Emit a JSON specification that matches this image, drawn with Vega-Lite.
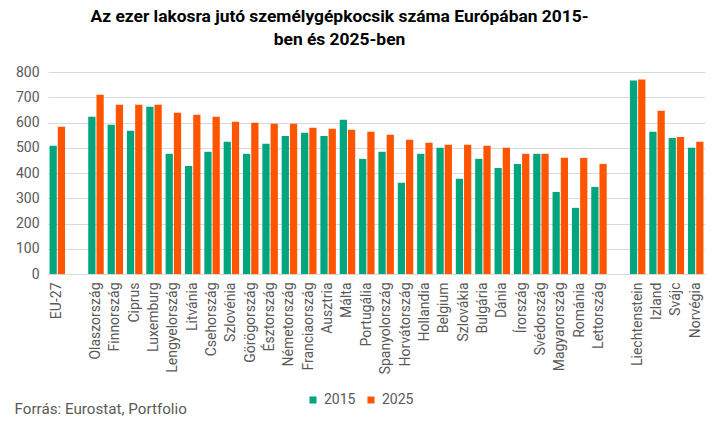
{
  "$schema": "https://vega.github.io/schema/vega-lite/v6.json",
  "autosize": {"type": "none"},
  "width": 657,
  "height": 202,
  "padding": {"left": 48, "top": 72, "right": 14, "bottom": 148},
  "background": "white",
  "title": {
    "text": ["Az ezer lakosra jutó személygépkocsik száma Európában 2015-", "ben és 2025-ben"],
    "font": "Roboto",
    "fontSize": 17.4,
    "fontWeight": "bold",
    "color": "#000000",
    "anchor": "middle",
    "dx": -37,
    "offset": 17,
    "lineHeight": 23
  },
  "data": {
    "values": [
      {"orszag": "EU-27", "ev": "2015", "ertek": 508},
      {"orszag": "EU-27", "ev": "2025", "ertek": 583},
      {"orszag": "Olaszország", "ev": "2015", "ertek": 623},
      {"orszag": "Olaszország", "ev": "2025", "ertek": 710},
      {"orszag": "Finnország", "ev": "2015", "ertek": 591},
      {"orszag": "Finnország", "ev": "2025", "ertek": 670},
      {"orszag": "Ciprus", "ev": "2015", "ertek": 567},
      {"orszag": "Ciprus", "ev": "2025", "ertek": 670},
      {"orszag": "Luxemburg", "ev": "2015", "ertek": 662},
      {"orszag": "Luxemburg", "ev": "2025", "ertek": 670},
      {"orszag": "Lengyelország", "ev": "2015", "ertek": 476},
      {"orszag": "Lengyelország", "ev": "2025", "ertek": 639},
      {"orszag": "Litvánia", "ev": "2015", "ertek": 428},
      {"orszag": "Litvánia", "ev": "2025", "ertek": 631},
      {"orszag": "Csehország", "ev": "2015", "ertek": 484},
      {"orszag": "Csehország", "ev": "2025", "ertek": 623},
      {"orszag": "Szlovénia", "ev": "2015", "ertek": 524},
      {"orszag": "Szlovénia", "ev": "2025", "ertek": 603},
      {"orszag": "Görögország", "ev": "2015", "ertek": 476},
      {"orszag": "Görögország", "ev": "2025", "ertek": 599},
      {"orszag": "Észtország", "ev": "2015", "ertek": 516},
      {"orszag": "Észtország", "ev": "2025", "ertek": 595},
      {"orszag": "Németország", "ev": "2015", "ertek": 547},
      {"orszag": "Németország", "ev": "2025", "ertek": 595},
      {"orszag": "Franciaország", "ev": "2015", "ertek": 559},
      {"orszag": "Franciaország", "ev": "2025", "ertek": 579},
      {"orszag": "Ausztria", "ev": "2015", "ertek": 547},
      {"orszag": "Ausztria", "ev": "2025", "ertek": 575},
      {"orszag": "Málta", "ev": "2015", "ertek": 611},
      {"orszag": "Málta", "ev": "2025", "ertek": 571},
      {"orszag": "Portugália", "ev": "2015", "ertek": 456},
      {"orszag": "Portugália", "ev": "2025", "ertek": 563},
      {"orszag": "Spanyolország", "ev": "2015", "ertek": 484},
      {"orszag": "Spanyolország", "ev": "2025", "ertek": 551},
      {"orszag": "Horvátország", "ev": "2015", "ertek": 361},
      {"orszag": "Horvátország", "ev": "2025", "ertek": 532},
      {"orszag": "Hollandia", "ev": "2015", "ertek": 476},
      {"orszag": "Hollandia", "ev": "2025", "ertek": 520},
      {"orszag": "Belgium", "ev": "2015", "ertek": 500},
      {"orszag": "Belgium", "ev": "2025", "ertek": 512},
      {"orszag": "Szlovákia", "ev": "2015", "ertek": 377},
      {"orszag": "Szlovákia", "ev": "2025", "ertek": 512},
      {"orszag": "Bulgária", "ev": "2015", "ertek": 456},
      {"orszag": "Bulgária", "ev": "2025", "ertek": 508},
      {"orszag": "Dánia", "ev": "2015", "ertek": 420},
      {"orszag": "Dánia", "ev": "2025", "ertek": 500},
      {"orszag": "Írország", "ev": "2015", "ertek": 436},
      {"orszag": "Írország", "ev": "2025", "ertek": 476},
      {"orszag": "Svédország", "ev": "2015", "ertek": 476},
      {"orszag": "Svédország", "ev": "2025", "ertek": 476},
      {"orszag": "Magyarország", "ev": "2015", "ertek": 325},
      {"orszag": "Magyarország", "ev": "2025", "ertek": 460},
      {"orszag": "Románia", "ev": "2015", "ertek": 262},
      {"orszag": "Románia", "ev": "2025", "ertek": 460},
      {"orszag": "Lettország", "ev": "2015", "ertek": 345},
      {"orszag": "Lettország", "ev": "2025", "ertek": 436},
      {"orszag": "Liechtenstein", "ev": "2015", "ertek": 766},
      {"orszag": "Liechtenstein", "ev": "2025", "ertek": 770},
      {"orszag": "Izland", "ev": "2015", "ertek": 563},
      {"orszag": "Izland", "ev": "2025", "ertek": 647},
      {"orszag": "Svájc", "ev": "2015", "ertek": 539},
      {"orszag": "Svájc", "ev": "2025", "ertek": 543},
      {"orszag": "Norvégia", "ev": "2015", "ertek": 500},
      {"orszag": "Norvégia", "ev": "2025", "ertek": 524}
    ]
  },
  "mark": {"type": "bar"},
  "encoding": {
    "x": {
      "field": "orszag",
      "type": "nominal",
      "scale": {
        "domain": ["EU-27", " ", "Olaszország", "Finnország", "Ciprus", "Luxemburg", "Lengyelország", "Litvánia", "Csehország", "Szlovénia", "Görögország", "Észtország", "Németország", "Franciaország", "Ausztria", "Málta", "Portugália", "Spanyolország", "Horvátország", "Hollandia", "Belgium", "Szlovákia", "Bulgária", "Dánia", "Írország", "Svédország", "Magyarország", "Románia", "Lettország", "  ", "Liechtenstein", "Izland", "Svájc", "Norvégia"],
        "paddingInner": 0.2,
        "paddingOuter": 0.08
      },
      "axis": {
        "title": "Forrás: Eurostat, Portfolio",
        "titleFont": "Roboto",
        "titleFontSize": 15.2,
        "titleFontWeight": "normal",
        "titleColor": "#595959",
        "titleAnchor": "start",
        "titleAlign": "left",
        "titleBaseline": "middle",
        "titleX": -34,
        "titleY": 134,
        "labelAngle": -90,
        "labelFont": "Roboto",
        "labelFontSize": 14,
        "labelColor": "#595959",
        "labelPadding": 8,
        "ticks": false,
        "domainColor": "#d9d9d9"
      }
    },
    "xOffset": {"field": "ev", "type": "nominal", "scale": {"paddingInner": 0.12}},
    "y": {
      "field": "ertek",
      "type": "quantitative",
      "scale": {"domain": [0, 800]},
      "axis": {
        "title": null,
        "values": [0, 100, 200, 300, 400, 500, 600, 700, 800],
        "domain": false,
        "ticks": false,
        "labelFont": "Roboto",
        "labelFontSize": 14,
        "labelColor": "#595959",
        "labelPadding": 9,
        "gridColor": "#d9d9d9"
      }
    },
    "color": {
      "field": "ev",
      "type": "nominal",
      "scale": {"domain": ["2015", "2025"], "range": ["#03a57e", "#ff5500"]},
      "legend": {
        "title": null,
        "orient": "none",
        "direction": "horizontal",
        "legendX": 258,
        "legendY": 321,
        "symbolType": "square",
        "symbolSize": 49,
        "symbolStrokeWidth": 0,
        "labelOffset": 4,
        "labelFont": "Roboto",
        "labelFontSize": 14,
        "labelColor": "#595959",
        "columnPadding": 8
      }
    }
  },
  "config": {
    "view": {"stroke": null},
    "font": "Roboto"
  }
}
